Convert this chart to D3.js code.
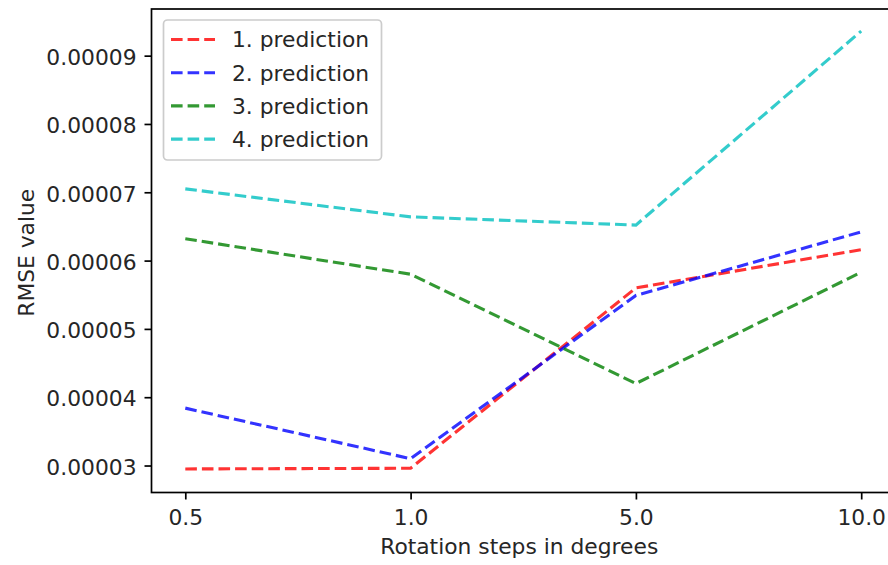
<!DOCTYPE html>
<html>
<head>
<meta charset="utf-8">
<script src="https://cdn.jsdelivr.net/npm/d3@7"></script>
<style>
  html, body { margin: 0; padding: 0; background: #fff; }
  svg { display: block; }
  text { font-family: "DejaVu Sans", sans-serif; }
</style>
</head>
<body>
<svg id="chart" width="888" height="565"></svg>
<script>
// ---- data ----
const categories = ["0.5", "1.0", "5.0", "10.0"];
const seriesNames = ["1. prediction", "2. prediction", "3. prediction", "4. prediction"];
const pred1 = [2.95e-5, 2.96e-5, 5.60e-5, 6.16e-5];
const pred2 = [3.84e-5, 3.10e-5, 5.49e-5, 6.42e-5];
const pred3 = [6.32e-5, 5.80e-5, 4.20e-5, 5.83e-5];
const pred4 = [7.05e-5, 6.64e-5, 6.52e-5, 9.36e-5];
const seriesColors = ["#ff0000", "#0000ff", "#008000", "#00bfbf"];
const yTicks = [3e-5, 4e-5, 5e-5, 6e-5, 7e-5, 8e-5, 9e-5];
const xLabel = "Rotation steps in degrees";
const yLabel = "RMSE value";

const series = [pred1, pred2, pred3, pred4];

// ---- layout ----
const W = 888, H = 565;
const pLeft = 151.5, pRight = 895, pTop = 9, pBottom = 492.5;
const fs = 21.8;
const textColor = "#262626";

const svg = d3.select("#chart");
svg.append("rect").attr("width", W).attr("height", H).attr("fill", "#fff");

const x = d3.scalePoint().domain(categories).range([pLeft, pRight]).padding(0.15);
const y = d3.scaleLinear().domain([2.605e-5, 9.683e-5]).range([pBottom, pTop]);

// lines
const line = d3.line().x((d, i) => x(categories[i])).y(d => y(d));
series.forEach((s, k) => {
  svg.append("path")
    .datum(s)
    .attr("fill", "none")
    .attr("stroke", seriesColors[k])
    .attr("stroke-opacity", 0.8)
    .attr("stroke-width", 3.1)
    .attr("stroke-dasharray", "11.6,5")
    .attr("d", line);
});

// axes
const yAxis = d3.axisLeft(y).tickValues(yTicks).tickFormat(d3.format(".5f")).tickSize(7).tickPadding(8);
const gy = svg.append("g").attr("transform", `translate(${pLeft},0)`).call(yAxis);
const xAxis = d3.axisBottom(x).tickSize(7).tickPadding(10.5);
const gx = svg.append("g").attr("transform", `translate(0,${pBottom})`).call(xAxis);
[gx, gy].forEach(g => {
  g.select(".domain").remove();
  g.selectAll(".tick line").attr("stroke", "#000").attr("stroke-width", 1.7);
  g.selectAll(".tick text").attr("fill", textColor).style("font-size", fs + "px").style("font-family", "DejaVu Sans");
});
gy.selectAll(".tick text").attr("dy", "0.4em");

// spines
svg.append("rect")
  .attr("x", pLeft).attr("y", pTop)
  .attr("width", pRight - pLeft).attr("height", pBottom - pTop)
  .attr("fill", "none").attr("stroke", "#000").attr("stroke-width", 1.7);

// labels
svg.append("text")
  .attr("x", (pLeft + pRight) / 2 - 4).attr("y", 554)
  .attr("text-anchor", "middle").attr("fill", textColor)
  .style("font-size", fs + "px").text(xLabel);
svg.append("text")
  .attr("transform", `translate(34,${(pTop + pBottom) / 2 + 2}) rotate(-90)`)
  .attr("text-anchor", "middle").attr("fill", textColor)
  .style("font-size", fs + "px").text(yLabel);

// legend
const lg = svg.append("g");
lg.append("rect")
  .attr("x", 163.5).attr("y", 20).attr("width", 218).attr("height", 140)
  .attr("rx", 4).attr("fill", "#fff").attr("fill-opacity", 0.8)
  .attr("stroke", "#cccccc").attr("stroke-width", 1.7);
seriesNames.forEach((name, k) => {
  const cy = 39.5 + k * 33.2;
  lg.append("line")
    .attr("x1", 171).attr("x2", 215).attr("y1", cy).attr("y2", cy)
    .attr("stroke", seriesColors[k]).attr("stroke-opacity", 0.8)
    .attr("stroke-width", 3.1).attr("stroke-dasharray", "11.6,5");
  lg.append("text")
    .attr("x", 232).attr("y", cy).attr("dy", "0.36em")
    .attr("fill", textColor).style("font-size", fs + "px").text(name);
});
</script>
</body>
</html>
